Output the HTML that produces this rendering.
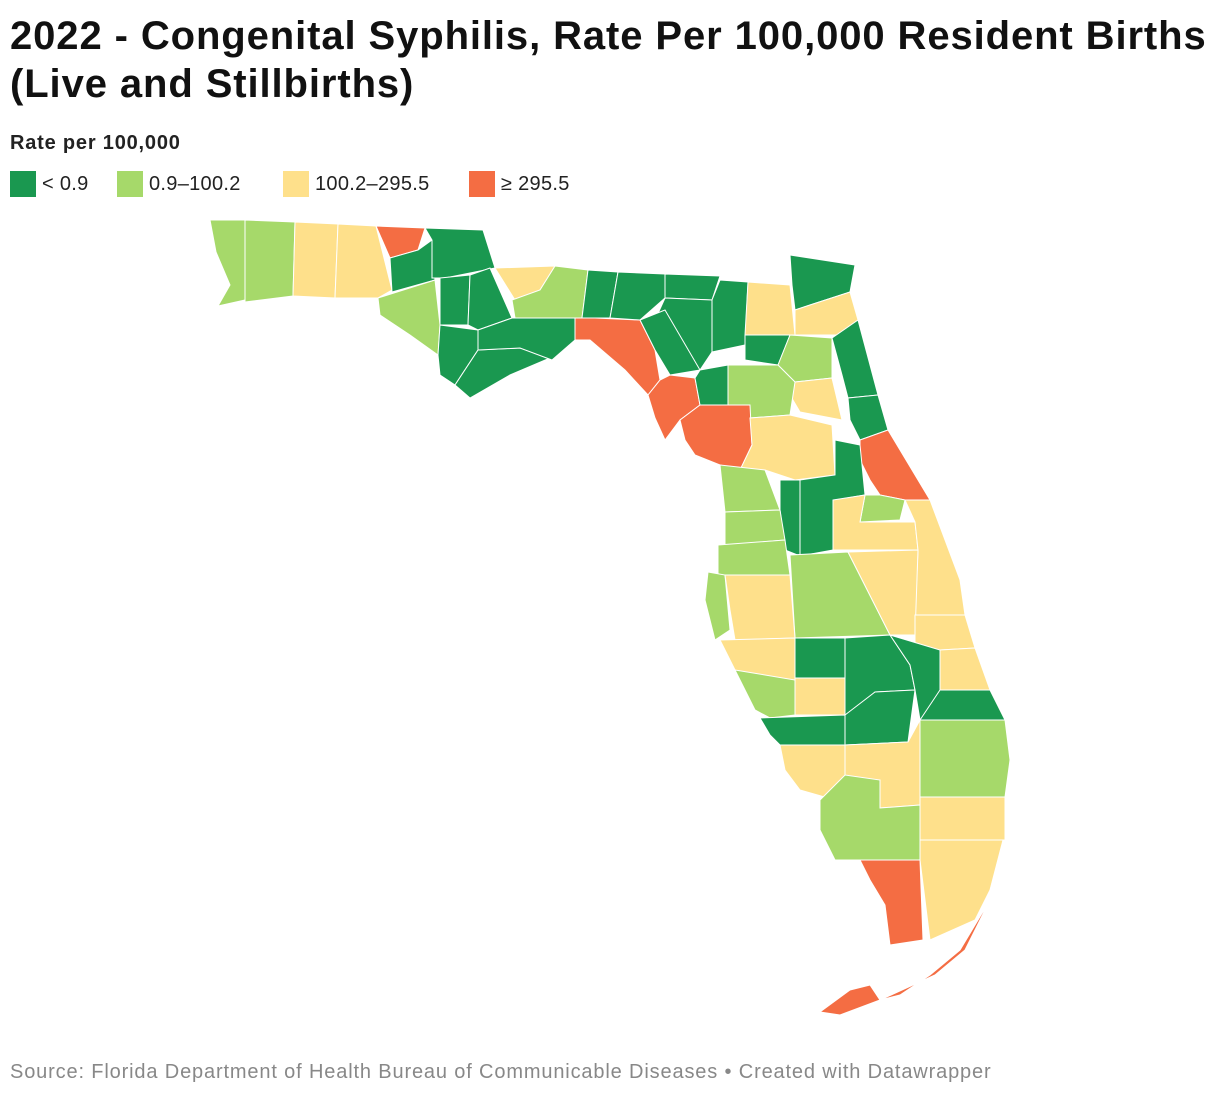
<!DOCTYPE html>
<html><head><meta charset="utf-8">
<style>
body{margin:0;background:#fff;width:1220px;height:1098px;overflow:hidden;font-family:"Liberation Sans",Arial,sans-serif;}
#title{position:absolute;left:10px;top:12px;font-size:40px;font-weight:bold;line-height:48px;color:#111;width:1215px;letter-spacing:0.9px;}
#leg-title{position:absolute;left:10px;top:132px;font-size:20px;font-weight:bold;color:#222;letter-spacing:0.8px;}
#legend{position:absolute;left:0;top:171px;width:1220px;height:28px;font-size:20px;color:#222;}
.li{position:absolute;top:0;display:flex;align-items:center;letter-spacing:0.3px;}
.sw{width:26px;height:26px;margin-right:6px;}
#src{position:absolute;left:10px;top:1061px;font-size:20px;color:#888;letter-spacing:0.85px;}
svg{position:absolute;left:0;top:0;}
</style></head><body>
<div id="title">2022 - Congenital Syphilis, Rate Per 100,000 Resident Births (Live and Stillbirths)</div>
<div id="leg-title">Rate per 100,000</div>
<div id="legend">
<div class="li" style="left:10px"><div class="sw" style="background:#1a9850"></div>&lt; 0.9</div>
<div class="li" style="left:117px"><div class="sw" style="background:#a6d96a"></div>0.9–100.2</div>
<div class="li" style="left:283px"><div class="sw" style="background:#fee08b"></div>100.2–295.5</div>
<div class="li" style="left:469px"><div class="sw" style="background:#f46d43"></div>≥ 295.5</div>
</div>
<svg id="map" width="1220" height="1098"></svg>
<div id="src">Source: Florida Department of Health Bureau of Communicable Diseases • Created with Datawrapper</div>
<script>
const colors=["#1a9850","#a6d96a","#fee08b","#f46d43"];
const counties=["escambia","santa-rosa","okaloosa","walton","holmes","washington","jackson","bay","calhoun","liberty","gulf","franklin","gadsden","leon","wakulla","jefferson","taylor","madison","hamilton","suwannee","lafayette","columbia","dixie","gilchrist","baker","nassau","duval","union","bradford","clay","st-johns","alachua","flagler","levy","marion","volusia","lake","citrus","sumter","seminole","hernando","orange","brevard","pasco","polk","osceola","pinellas","hillsborough","indian-river","manatee","hardee","highlands","okeechobee","st-lucie","sarasota","desoto","martin","charlotte","glades","palm-beach","lee","hendry","collier","broward","miami-dade","monroe","monroe-keys"];
const category=[1,1,2,2,3,0,0,1,0,0,0,0,2,1,0,0,3,0,0,0,0,0,3,0,2,0,2,0,1,2,0,1,0,3,2,3,0,1,0,1,1,2,2,1,1,2,1,2,2,2,0,0,0,2,1,2,0,0,0,1,2,2,1,2,2,3,3];
const shapes=[
"210,220 245,220 245,300 218,306 230,285 216,252",
"245,220 295,222 293,296 245,302",
"295,222 338,224 335,298 293,296",
"338,224 376,226 392,290 378,298 335,298",
"376,226 425,228 418,250 390,258",
"390,258 418,250 432,240 435,280 392,292",
"425,228 483,230 495,268 445,278 432,278 432,240",
"378,298 435,280 440,325 438,355 410,335 380,315",
"440,278 470,275 468,325 440,325",
"470,275 490,268 512,318 478,330 468,325",
"440,325 478,330 478,350 455,385 440,375 438,355",
"478,350 520,348 550,358 510,375 470,398 455,385",
"495,268 555,266 540,290 515,300",
"555,266 588,270 582,318 515,318 512,300 540,290",
"512,318 575,318 575,340 552,360 520,348 478,350 478,330",
"588,270 618,272 610,318 582,318",
"595,318 640,320 655,350 660,380 648,395 625,370 590,340 575,340 575,318",
"618,272 665,274 665,298 640,320 610,318",
"665,274 720,276 712,300 665,298",
"665,298 712,300 712,352 700,370 660,345 655,320",
"640,320 665,310 700,370 670,375 655,350",
"720,280 748,282 745,345 712,352 712,300",
"648,395 660,380 670,375 695,378 700,405 680,420 665,440 655,418",
"700,370 728,365 728,405 700,405 695,378",
"748,282 790,285 795,335 745,335",
"790,255 855,265 850,292 810,305 795,310 792,285",
"810,305 850,292 858,320 845,335 795,335 795,310",
"745,335 790,335 778,365 745,360",
"790,335 832,338 832,378 795,382 778,365",
"795,382 832,378 842,420 800,412 790,395",
"832,338 858,320 878,395 848,398 842,375",
"728,365 778,365 795,382 790,415 750,418 728,405",
"848,398 878,395 888,430 860,440 850,420",
"680,420 700,405 750,405 752,445 740,470 720,465 695,455 685,440",
"750,418 790,415 832,425 835,475 795,480 765,470 740,470 752,445",
"860,440 888,430 930,500 905,500 880,495 870,480 860,460",
"835,440 860,445 865,495 835,500 833,550 800,556 800,480 835,475",
"720,465 765,470 780,510 725,512",
"780,480 800,480 800,556 785,550 780,510",
"865,495 880,495 905,500 900,520 860,522",
"725,512 780,510 785,540 725,545",
"833,500 865,495 860,522 915,522 918,550 833,550",
"905,500 930,500 960,580 965,615 915,615 918,550 915,522",
"718,545 785,540 790,575 718,578",
"790,555 848,552 890,635 795,638",
"848,552 918,550 915,635 890,635",
"708,572 725,575 730,630 715,640 705,600",
"725,575 790,575 795,638 735,640 730,610",
"915,615 965,615 975,648 940,650 915,650",
"720,640 795,638 795,680 770,690 735,670",
"795,638 845,638 845,678 795,678",
"845,638 890,635 910,665 915,690 875,692 850,715 845,715",
"890,635 940,650 940,700 920,720 915,690 910,665",
"940,650 975,648 990,690 940,690",
"735,670 795,680 795,715 770,718 755,710",
"795,678 845,678 845,715 795,715",
"920,720 940,690 990,690 1005,720",
"760,718 845,715 845,745 780,745 770,735",
"845,715 875,692 915,690 908,742 845,745",
"920,720 1005,720 1010,760 1005,797 920,797",
"780,745 845,745 845,775 835,800 800,790 785,770",
"845,745 908,742 920,720 920,805 880,808 880,780 845,780",
"820,800 845,775 880,780 880,808 920,805 920,860 835,860 820,830",
"920,797 1005,797 1005,840 920,840",
"920,840 1003,840 990,890 975,920 930,940 920,860",
"860,860 920,860 923,940 890,945 885,905 870,880",
"990,900 960,950 930,975 900,995 880,1000 870,985 850,990 820,1012 840,1015 880,1000 935,975 965,950"
];
const svg=document.getElementById('map');
const NS="http://www.w3.org/2000/svg";
counties.forEach((c,i)=>{
  const p=document.createElementNS(NS,'polygon');
  p.setAttribute('points',shapes[i]);
  p.setAttribute('fill',colors[category[i]]);
  p.setAttribute('stroke','#fff');
  p.setAttribute('stroke-width','1');
  
  
  svg.appendChild(p);
});
</script>
</body></html>
